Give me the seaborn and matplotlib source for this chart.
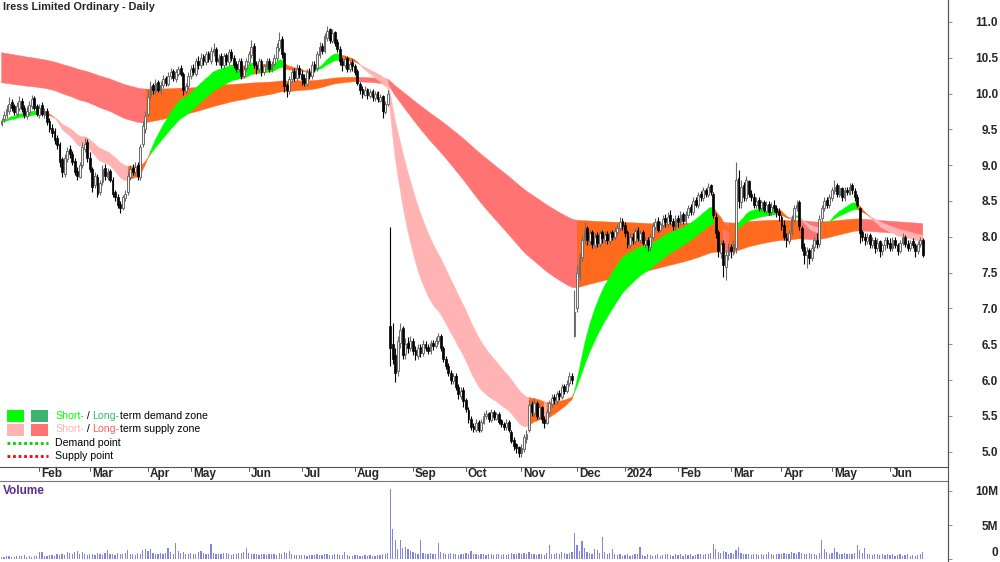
import numpy as np
import pandas as pd
import matplotlib
matplotlib.use("Agg")
import matplotlib.pyplot as plt
import seaborn as sns
from matplotlib.patches import Rectangle
from matplotlib.lines import Line2D

# ---------------- data ----------------
title = "Iress Limited Ordinary - Daily"
start_date, end_date = "2023-01-10", "2024-06-21"
asx_holidays = ["2023-01-26", "2023-04-07", "2023-04-10", "2023-04-25", "2023-06-12",
                "2023-12-25", "2023-12-26", "2024-01-01", "2024-01-26", "2024-03-29",
                "2024-04-01", "2024-04-25", "2024-06-10"]

opens = [
 9.58, 9.64, 9.70, 9.76, 9.88, 9.82, 9.72, 9.80, 9.90, 9.80, 9.68, 9.74, 9.82, 9.94, 9.82,
 9.70, 9.84, 9.70, 9.76, 9.62, 9.52, 9.48, 9.38, 9.30, 9.08, 8.88, 9.08, 9.22, 9.16, 9.06, 8.92, 8.84, 9.00, 9.22, 9.32,
 9.10, 8.94, 8.72, 8.84, 8.62, 8.76, 8.96, 8.84, 8.92, 8.80, 8.62, 8.56, 8.46, 8.40, 8.54, 8.62, 8.84, 8.96, 8.90, 9.00, 8.84, 9.30, 9.50,
 9.72, 9.96, 10.12, 10.04, 10.16, 10.04, 10.12, 10.22, 10.14, 10.24, 10.32, 10.20, 10.28, 10.36, 10.28, 10.04, 10.10,
 10.24, 10.36, 10.28, 10.46, 10.40, 10.52, 10.44, 10.56, 10.46, 10.58, 10.62, 10.44, 10.52, 10.40, 10.54, 10.44, 10.58, 10.50, 10.42, 10.34, 10.46, 10.24, 10.36,
 10.44, 10.54, 10.66, 10.40, 10.34, 10.46, 10.30, 10.38, 10.46, 10.34, 10.42, 10.50, 10.64, 10.76, 10.56, 10.12, 10.04, 10.20, 10.32, 10.22, 10.36,
 10.28, 10.22, 10.14, 10.30, 10.24, 10.42, 10.36, 10.54, 10.66, 10.60, 10.78, 10.90, 10.74, 10.86, 10.72, 10.62, 10.46, 10.40, 10.50, 10.34, 10.44,
 10.38, 10.32, 10.14, 10.06, 9.98, 10.06, 9.96, 10.04, 9.94, 10.02, 9.90, 9.96, 9.74, 9.86, 6.75, 6.50, 6.35, 6.12, 6.52, 6.72, 6.36, 6.52, 6.44,
 6.54, 6.42, 6.34, 6.46, 6.38, 6.50, 6.46, 6.40, 6.52, 6.48, 6.54, 6.62, 6.44, 6.30, 6.20, 6.10, 5.98, 6.06, 5.90, 5.78, 5.86,
 5.72, 5.58, 5.46, 5.36, 5.30, 5.42, 5.30, 5.40, 5.50, 5.54, 5.44, 5.56, 5.46, 5.52, 5.44, 5.38, 5.34, 5.42, 5.28, 5.16, 5.10, 5.06,
 4.98, 5.04, 5.18, 5.30, 5.66, 5.54, 5.68, 5.48, 5.62, 5.46, 5.40, 5.56, 5.66, 5.76, 5.70, 5.82, 5.76, 5.92, 5.84, 5.96, 6.06, 6.62,
 7.00, 7.45, 7.72, 7.96, 8.12, 7.94, 8.06, 7.88, 8.02, 7.90, 8.06, 7.96, 8.04, 7.94, 8.06, 8.00, 8.06, 8.12, 8.22,
 8.16, 8.06, 7.88, 8.00, 7.94, 8.10, 7.96, 8.06, 7.90, 7.96, 7.86, 8.00, 8.14, 8.22, 8.10, 8.16, 8.26, 8.18, 8.30, 8.22, 8.14,
 8.26, 8.20, 8.32, 8.22, 8.30, 8.42, 8.34, 8.52, 8.44, 8.60, 8.54, 8.66, 8.58, 8.72, 8.60, 8.28, 8.06, 7.78, 7.92, 7.58, 7.74,
 7.86, 7.78, 7.85, 8.82, 8.48, 8.72, 8.54, 8.78, 8.60, 8.56, 8.44, 8.52, 8.40, 8.48, 8.36, 8.46, 8.34, 8.44, 8.40, 8.36,
 8.28, 8.16, 7.98, 7.94, 8.06, 8.24, 8.40, 8.48, 8.12, 7.86, 7.74, 7.82, 7.70, 7.86, 7.96, 7.90, 8.26, 8.40, 8.52, 8.44,
 8.54, 8.64, 8.72, 8.58, 8.68, 8.54, 8.66, 8.60, 8.72, 8.64, 8.56, 8.40, 8.06, 8.00, 7.94, 8.02, 7.88, 7.96, 7.84, 7.94, 7.80, 7.88, 7.96,
 7.92, 7.84, 7.96, 7.88, 7.80, 7.92, 8.00, 7.90, 7.84, 7.94, 7.88, 7.80, 7.90, 7.96,
]
highs = [
 9.66, 9.76, 9.84, 9.95, 9.92, 9.86, 9.88, 9.96, 9.94, 9.84, 9.82, 9.90, 9.98, 9.97, 9.86,
 9.86, 9.88, 9.80, 9.80, 9.66, 9.58, 9.52, 9.42, 9.33, 9.12, 9.15, 9.25, 9.28, 9.20, 9.10, 8.98, 9.05, 9.32, 9.38, 9.36,
 9.18, 8.98, 8.90, 8.88, 8.80, 9.00, 9.02, 8.96, 8.95, 8.84, 8.66, 8.60, 8.50, 8.58, 8.66, 8.90, 9.00, 9.02, 9.05, 9.04, 9.30, 9.62, 9.75,
 10.05, 10.18, 10.15, 10.20, 10.19, 10.17, 10.26, 10.25, 10.30, 10.36, 10.35, 10.34, 10.38, 10.40, 10.30, 10.15, 10.30,
 10.40, 10.42, 10.50, 10.52, 10.56, 10.55, 10.60, 10.60, 10.65, 10.70, 10.65, 10.55, 10.56, 10.56, 10.56, 10.62, 10.62, 10.54, 10.46, 10.50, 10.50, 10.40, 10.50,
 10.60, 10.75, 10.70, 10.45, 10.50, 10.48, 10.42, 10.50, 10.50, 10.46, 10.55, 10.70, 10.86, 10.80, 10.58, 10.15, 10.25, 10.36, 10.36, 10.42, 10.40,
 10.33, 10.28, 10.34, 10.36, 10.45, 10.46, 10.60, 10.72, 10.70, 10.85, 10.95, 10.92, 10.90, 10.88, 10.76, 10.66, 10.50, 10.52, 10.52, 10.46, 10.48,
 10.42, 10.35, 10.16, 10.10, 10.10, 10.08, 10.06, 10.06, 10.04, 10.04, 10.00, 9.98, 9.90, 10.05, 8.14, 6.80, 6.45, 6.62, 6.80, 6.75, 6.58, 6.60, 6.62,
 6.58, 6.48, 6.50, 6.50, 6.56, 6.55, 6.50, 6.56, 6.56, 6.60, 6.66, 6.64, 6.48, 6.34, 6.24, 6.14, 6.10, 6.10, 5.95, 5.90, 5.90,
 5.75, 5.62, 5.50, 5.40, 5.45, 5.44, 5.46, 5.55, 5.58, 5.56, 5.60, 5.58, 5.56, 5.55, 5.46, 5.42, 5.45, 5.44, 5.30, 5.20, 5.12, 5.08,
 5.10, 5.24, 5.30, 5.72, 5.70, 5.75, 5.70, 5.66, 5.64, 5.50, 5.60, 5.72, 5.80, 5.80, 5.85, 5.86, 5.95, 5.95, 6.00, 6.11, 6.10, 7.26,
 7.60, 7.77, 8.02, 8.20, 8.15, 8.10, 8.10, 8.05, 8.06, 8.10, 8.10, 8.08, 8.08, 8.10, 8.10, 8.13, 8.18, 8.28, 8.26,
 8.20, 8.10, 8.05, 8.05, 8.12, 8.14, 8.10, 8.10, 8.00, 8.00, 8.05, 8.20, 8.26, 8.28, 8.22, 8.30, 8.32, 8.35, 8.37, 8.26, 8.30,
 8.30, 8.36, 8.35, 8.36, 8.45, 8.46, 8.55, 8.56, 8.62, 8.64, 8.70, 8.68, 8.75, 8.74, 8.62, 8.33, 8.10, 7.95, 7.95, 7.80, 7.91,
 7.90, 7.95, 9.05, 8.93, 8.80, 8.76, 8.85, 8.80, 8.66, 8.61, 8.55, 8.56, 8.52, 8.52, 8.50, 8.50, 8.48, 8.51, 8.45, 8.40,
 8.30, 8.23, 8.05, 8.10, 8.30, 8.45, 8.51, 8.51, 8.15, 7.92, 7.86, 7.85, 7.90, 8.00, 8.05, 8.30, 8.45, 8.55, 8.56, 8.60,
 8.70, 8.79, 8.75, 8.72, 8.70, 8.70, 8.70, 8.75, 8.75, 8.68, 8.60, 8.42, 8.10, 8.05, 8.05, 8.05, 8.00, 8.00, 7.98, 7.96, 7.92, 8.00, 8.00,
 7.98, 8.00, 8.00, 7.92, 7.96, 8.05, 8.02, 7.95, 7.96, 7.98, 7.92, 7.94, 8.00, 7.98,
]
lows = [
 9.55, 9.60, 9.66, 9.72, 9.76, 9.70, 9.68, 9.76, 9.74, 9.66, 9.64, 9.70, 9.78, 9.77, 9.68,
 9.66, 9.68, 9.66, 9.56, 9.46, 9.40, 9.30, 9.22, 8.98, 8.83, 8.84, 9.04, 9.10, 9.00, 8.86, 8.80, 8.82, 8.96, 9.18, 9.05,
 8.90, 8.62, 8.68, 8.55, 8.58, 8.72, 8.80, 8.80, 8.76, 8.56, 8.50, 8.40, 8.33, 8.38, 8.50, 8.58, 8.80, 8.86, 8.86, 8.80, 8.80, 9.25, 9.45,
 9.68, 9.92, 10.00, 10.00, 10.02, 10.00, 10.08, 10.10, 10.10, 10.20, 10.18, 10.16, 10.24, 10.25, 9.98, 10.00, 10.06,
 10.20, 10.26, 10.24, 10.35, 10.36, 10.40, 10.40, 10.44, 10.42, 10.52, 10.40, 10.40, 10.36, 10.36, 10.40, 10.40, 10.46, 10.36, 10.30, 10.30, 10.20, 10.22, 10.32,
 10.40, 10.50, 10.36, 10.28, 10.30, 10.25, 10.26, 10.34, 10.30, 10.30, 10.38, 10.46, 10.60, 10.50, 10.02, 9.95, 10.00, 10.16, 10.18, 10.18, 10.22,
 10.12, 10.10, 10.10, 10.20, 10.20, 10.30, 10.32, 10.50, 10.55, 10.56, 10.74, 10.70, 10.70, 10.66, 10.58, 10.40, 10.32, 10.36, 10.30, 10.30, 10.32,
 10.26, 10.12, 10.00, 9.94, 9.96, 9.93, 9.94, 9.90, 9.90, 9.88, 9.88, 9.66, 9.72, 9.82, 6.20, 6.22, 5.97, 6.05, 6.45, 6.30, 6.30, 6.38, 6.40,
 6.35, 6.28, 6.30, 6.32, 6.34, 6.40, 6.36, 6.36, 6.42, 6.44, 6.50, 6.40, 6.25, 6.15, 6.05, 5.95, 5.94, 5.86, 5.74, 5.74, 5.62,
 5.55, 5.40, 5.30, 5.27, 5.28, 5.27, 5.28, 5.38, 5.45, 5.41, 5.42, 5.44, 5.44, 5.38, 5.34, 5.30, 5.30, 5.27, 5.12, 5.02, 4.98, 4.92,
 4.92, 5.00, 5.12, 5.28, 5.50, 5.50, 5.45, 5.45, 5.40, 5.33, 5.38, 5.52, 5.62, 5.66, 5.66, 5.72, 5.74, 5.80, 5.82, 5.92, 5.95, 6.60,
 6.95, 7.40, 7.66, 7.90, 7.88, 7.88, 7.84, 7.84, 7.86, 7.86, 7.92, 7.92, 7.90, 7.90, 7.96, 7.96, 8.02, 8.08, 8.10,
 8.00, 7.84, 7.84, 7.90, 7.90, 7.94, 7.92, 7.88, 7.84, 7.80, 7.80, 7.96, 8.10, 8.06, 8.06, 8.12, 8.14, 8.14, 8.18, 8.10, 8.10,
 8.14, 8.16, 8.18, 8.18, 8.26, 8.30, 8.30, 8.42, 8.40, 8.50, 8.50, 8.55, 8.55, 8.58, 8.26, 7.98, 7.72, 7.70, 7.44, 7.40, 7.67,
 7.70, 7.74, 7.77, 8.40, 8.40, 8.50, 8.50, 8.55, 8.50, 8.40, 8.40, 8.36, 8.36, 8.34, 8.33, 8.30, 8.30, 8.34, 8.28, 8.22,
 8.10, 7.95, 7.86, 7.90, 8.02, 8.20, 8.36, 8.10, 7.80, 7.62, 7.56, 7.62, 7.66, 7.80, 7.85, 7.86, 8.20, 8.36, 8.40, 8.40,
 8.50, 8.60, 8.55, 8.55, 8.50, 8.50, 8.58, 8.58, 8.60, 8.50, 8.42, 7.91, 7.94, 7.88, 7.90, 7.84, 7.84, 7.78, 7.80, 7.72, 7.74, 7.82, 7.84,
 7.80, 7.80, 7.84, 7.74, 7.77, 7.88, 7.86, 7.80, 7.80, 7.84, 7.72, 7.76, 7.86, 7.72,
]
closes = [
 9.62, 9.70, 9.78, 9.85, 9.80, 9.74, 9.82, 9.90, 9.78, 9.70, 9.76, 9.84, 9.92, 9.80, 9.72,
 9.80, 9.72, 9.75, 9.60, 9.50, 9.45, 9.35, 9.28, 9.05, 8.90, 9.10, 9.20, 9.15, 9.05, 8.90, 8.85, 9.00, 9.25, 9.30, 9.10,
 8.95, 8.70, 8.85, 8.60, 8.75, 8.95, 8.85, 8.90, 8.80, 8.60, 8.55, 8.45, 8.40, 8.55, 8.60, 8.85, 8.95, 8.90, 8.98, 8.85, 9.25, 9.55, 9.68,
 9.95, 10.10, 10.05, 10.15, 10.05, 10.12, 10.20, 10.15, 10.25, 10.30, 10.22, 10.30, 10.35, 10.28, 10.05, 10.10, 10.25,
 10.35, 10.30, 10.45, 10.40, 10.50, 10.45, 10.55, 10.48, 10.60, 10.62, 10.45, 10.50, 10.40, 10.52, 10.45, 10.58, 10.50, 10.40, 10.35, 10.45, 10.25, 10.35, 10.45,
 10.55, 10.65, 10.40, 10.35, 10.45, 10.30, 10.38, 10.45, 10.35, 10.42, 10.50, 10.65, 10.75, 10.55, 10.10, 10.05, 10.20, 10.30, 10.22, 10.35, 10.28,
 10.20, 10.15, 10.30, 10.25, 10.40, 10.35, 10.55, 10.65, 10.60, 10.80, 10.88, 10.75, 10.85, 10.70, 10.62, 10.45, 10.40, 10.48, 10.35, 10.42, 10.38,
 10.30, 10.15, 10.05, 10.00, 10.05, 9.98, 10.02, 9.95, 10.00, 9.92, 9.95, 9.75, 9.85, 10.00, 6.45, 6.30, 6.10, 6.55, 6.70, 6.35, 6.50, 6.45, 6.55,
 6.40, 6.35, 6.45, 6.38, 6.50, 6.45, 6.40, 6.52, 6.48, 6.55, 6.62, 6.45, 6.30, 6.20, 6.10, 6.00, 6.05, 5.90, 5.80, 5.85, 5.70,
 5.60, 5.45, 5.35, 5.32, 5.40, 5.30, 5.42, 5.50, 5.52, 5.45, 5.55, 5.48, 5.52, 5.42, 5.38, 5.35, 5.40, 5.30, 5.15, 5.08, 5.05, 4.98,
 5.05, 5.20, 5.25, 5.65, 5.55, 5.68, 5.50, 5.62, 5.45, 5.40, 5.55, 5.68, 5.75, 5.72, 5.80, 5.78, 5.90, 5.85, 5.95, 6.05, 6.00, 6.95,
 7.50, 7.70, 7.95, 8.10, 7.95, 8.05, 7.90, 8.00, 7.92, 8.05, 7.98, 8.02, 7.95, 8.05, 8.00, 8.08, 8.12, 8.20, 8.15,
 8.05, 7.90, 8.00, 7.95, 8.08, 7.98, 8.05, 7.92, 7.95, 7.88, 8.00, 8.15, 8.20, 8.10, 8.18, 8.25, 8.20, 8.28, 8.22, 8.15, 8.25,
 8.20, 8.30, 8.22, 8.32, 8.40, 8.35, 8.50, 8.45, 8.58, 8.55, 8.65, 8.60, 8.70, 8.62, 8.30, 8.05, 7.80, 7.90, 7.60, 7.75, 7.85,
 7.80, 7.90, 8.80, 8.50, 8.70, 8.55, 8.80, 8.60, 8.55, 8.45, 8.50, 8.40, 8.48, 8.38, 8.45, 8.35, 8.42, 8.40, 8.35, 8.30,
 8.15, 8.00, 7.95, 8.05, 8.25, 8.40, 8.45, 8.15, 7.85, 7.75, 7.80, 7.70, 7.85, 7.95, 7.90, 8.25, 8.40, 8.50, 8.45, 8.55,
 8.65, 8.70, 8.60, 8.68, 8.55, 8.65, 8.62, 8.70, 8.65, 8.55, 8.45, 8.05, 8.00, 7.95, 8.00, 7.90, 7.95, 7.85, 7.92, 7.80, 7.88, 7.95, 7.90,
 7.85, 7.95, 7.88, 7.80, 7.92, 8.00, 7.90, 7.85, 7.92, 7.88, 7.80, 7.90, 7.95, 7.75,
]
volume_m = [
 0.35, 0.30, 0.40, 0.45, 0.35, 0.30, 0.40, 0.50, 0.45, 0.55, 0.35, 0.40, 0.30, 0.45, 0.40,
 1.10, 1.00, 0.50, 0.45, 0.60, 0.55, 0.50, 0.70, 0.65, 0.80, 0.60, 1.00, 0.90, 0.70, 1.10, 1.20, 0.80, 1.10, 0.70, 0.60,
 0.80, 0.70, 0.60, 0.90, 0.75, 0.65, 0.85, 1.30, 0.70, 0.80, 0.60, 0.90, 0.75, 0.70, 0.85, 1.30, 0.80, 0.70, 0.60, 0.90, 0.80, 1.30, 1.50,
 1.20, 1.40, 0.90, 0.80, 0.70, 0.85, 0.75, 0.90, 1.60, 1.00, 0.80, 2.40, 1.20, 0.90, 1.00, 0.80, 0.70,
 0.90, 0.80, 0.70, 1.00, 1.20, 0.90, 0.80, 0.70, 2.20, 0.90, 0.80, 0.75, 0.70, 0.85, 0.90, 0.70, 0.65, 0.80, 0.75, 0.90, 0.85, 1.00, 1.60,
 0.90, 0.80, 0.70, 0.75, 0.65, 0.80, 0.70, 0.60, 0.75, 0.80, 0.70, 0.65, 0.90, 0.80, 1.00, 0.85, 1.20, 0.70, 0.60, 0.65, 0.55,
 0.60, 0.55, 0.50, 0.65, 0.60, 0.55, 0.70, 0.65, 0.60, 0.75, 0.70, 0.65, 0.60, 0.70, 0.80, 0.65, 0.60, 1.00, 0.55, 0.50, 0.45,
 0.60, 0.55, 0.50, 0.45, 0.60, 0.50, 0.55, 0.45, 0.50, 0.55, 0.60, 0.70, 0.80, 0.90, 10.3, 4.40, 2.80, 1.40, 2.80, 1.60, 1.80, 1.50, 1.20,
 1.00, 0.90, 0.80, 2.80, 0.90, 0.80, 0.70, 0.90, 0.80, 0.70, 2.40, 1.00, 0.90, 0.80, 0.70, 0.90, 0.80, 0.70, 0.60, 0.80, 0.70,
 0.90, 0.70, 1.20, 0.80, 0.70, 0.60, 0.80, 0.70, 0.60, 0.70, 0.80, 0.60, 0.70, 0.80, 0.60, 0.70, 0.60, 0.80, 0.90, 0.70, 0.80, 0.90,
 0.80, 0.90, 0.70, 1.00, 0.80, 0.70, 0.60, 0.80, 0.70, 0.60, 0.90, 2.10, 0.80, 0.70, 0.90, 0.80, 1.10, 0.90, 0.80, 0.90, 1.00, 3.80,
 2.00, 1.20, 2.70, 1.60, 1.00, 0.90, 0.80, 1.50, 1.30, 0.90, 3.30, 1.00, 0.80, 0.90, 1.50, 0.70, 0.60, 0.80, 0.50,
 0.60, 0.70, 0.50, 0.60, 0.80, 0.70, 1.80, 0.60, 0.50, 0.70, 0.60, 0.50, 0.60, 0.70, 0.50, 0.60, 0.70, 0.80, 0.60, 0.50, 0.70,
 0.60, 0.70, 0.50, 0.80, 0.60, 0.70, 0.50, 0.60, 0.80, 0.70, 0.60, 0.70, 0.80, 0.90, 2.20, 1.50, 1.00, 0.90, 1.20, 1.00, 0.80,
 0.90, 0.80, 1.30, 1.70, 0.90, 0.80, 0.70, 0.80, 0.60, 0.70, 0.80, 0.60, 0.70, 0.60, 0.70, 1.10, 0.70, 0.60, 0.80, 0.70,
 0.80, 0.90, 0.70, 0.80, 1.00, 0.90, 0.80, 1.10, 0.90, 0.80, 0.70, 0.90, 0.80, 0.70, 0.60, 0.90, 2.80, 1.50, 1.00, 0.80,
 0.90, 1.60, 1.00, 0.80, 0.70, 0.90, 0.80, 0.70, 0.80, 0.90, 2.00, 1.30, 0.90, 1.60, 0.80, 0.70, 0.60, 0.70, 0.80, 0.60, 0.70, 0.60, 0.70,
 0.60, 0.70, 0.50, 0.60, 0.70, 0.50, 0.60, 0.70, 0.50, 0.60, 0.50, 0.60, 0.70, 1.00,
]

# ribbon settings (EMA spans) and their starting levels read at the left edge
short_spans = (20, 38)
long_spans = (140, 250)
short_seed = (9.62, 9.60)
long_seed = (10.16, 10.58)

price_ticks = [5.0, 5.5, 6.0, 6.5, 7.0, 7.5, 8.0, 8.5, 9.0, 9.5, 10.0, 10.5, 11.0]
volume_ticks = [0, 5, 10]
volume_tick_labels = ["0", "5M", "10M"]

# ---------------- build ----------------
dates = pd.bdate_range(start_date, end_date, freq="C", holidays=asx_holidays)
n = len(dates)
for name, arr in [("opens", opens), ("highs", highs), ("lows", lows), ("closes", closes), ("volume", volume_m)]:
    if len(arr) != n:
        raise SystemExit(f"{name} has {len(arr)} values, calendar has {n}")

df = pd.DataFrame({"date": dates, "open": opens, "high": highs, "low": lows,
                   "close": closes, "volume": volume_m})
df["i"] = np.arange(n)


def ema(values, span, seed):
    a = 2.0 / (span + 1.0)
    out = np.empty(len(values))
    prev = seed
    for k, v in enumerate(values):
        prev = prev + a * (v - prev)
        out[k] = prev
    return out


c = df["close"].to_numpy()
s_fast = ema(c, short_spans[0], short_seed[0])
s_slow = ema(c, short_spans[1], short_seed[1])
l_fast = ema(c, long_spans[0], long_seed[0])
l_slow = ema(c, long_spans[1], long_seed[1])

sns.set_theme(style="white")
plt.rcParams["font.family"] = ["Liberation Sans", "DejaVu Sans"]
NARROW = ["Liberation Sans Narrow", "Liberation Sans", "DejaVu Sans"]

W, H = 1000, 562
fig = plt.figure(figsize=(W / 100, H / 100), dpi=100)
ax = fig.add_axes([0, (H - 467) / H, 948 / W, 467 / H])
axv = fig.add_axes([0, 0, 948 / W, (H - 481) / H])

x = df["i"].to_numpy().astype(float)

C_GREEN = "#00FF00"
C_DKGREEN = "#3CB371"
C_PINK = "#FFB3B3"
C_RED = "#FF7373"
C_ORANGE = "#FF6A1F"


def draw_band(fast, slow, up_col, down_col, z):
    d = np.diff(fast, prepend=fast[0])
    d[0] = d[1]
    state = np.where((d > 0) & (fast > slow), 1, np.where((d < 0) & (fast < slow), -1, 0))
    for s, col in [(0, C_ORANGE), (1, up_col), (-1, down_col)]:
        m = state == s
        m_ext = m | np.r_[False, m[:-1]]
        ax.fill_between(x, fast, slow, where=m_ext, color=col, lw=0.3, edgecolor=col,
                        interpolate=False, zorder=z)


draw_band(l_fast, l_slow, C_DKGREEN, C_RED, 1)
draw_band(s_fast, s_slow, C_GREEN, C_PINK, 2)

# candles
o = df["open"].to_numpy(); h = df["high"].to_numpy(); l = df["low"].to_numpy()
up = c >= o
ax.vlines(x[up], l[up], h[up], color="#6a6a6a", lw=0.8, zorder=3)
ax.vlines(x[~up], l[~up], h[~up], color="#000000", lw=0.8, zorder=3)
body_lo = np.minimum(o, c)
body_h = np.maximum(np.abs(c - o), 0.01)
ax.bar(x[up], body_h[up], bottom=body_lo[up], width=0.72, color="#f4f4f4",
       edgecolor="#6a6a6a", lw=0.7, zorder=4)
ax.bar(x[~up], body_h[~up], bottom=body_lo[~up], width=0.72, color="#000000",
       edgecolor="#000000", lw=0.5, zorder=4)

ax.set_xlim(-0.6, 375)
ax.set_ylim(4.785, 11.307)
ax.yaxis.tick_right()
ax.set_yticks(price_ticks)
ax.set_yticklabels([f"{t:.1f}" for t in price_ticks])
ax.tick_params(axis="y", which="both", right=True, length=3, width=0.6, color="#777777",
               pad=33, labelsize=8.5)
for t in ax.get_yticklabels():
    t.set_horizontalalignment("right")
    t.set_fontweight("bold")
    t.set_family(NARROW)
ax.set_xticks([])
for side in ["top", "left"]:
    ax.spines[side].set_visible(False)
for side in ["right", "bottom"]:
    ax.spines[side].set_visible(True)
    ax.spines[side].set_color("#555555")
    ax.spines[side].set_linewidth(0.8)

# continuous right border between the panels
fig.add_artist(Line2D([947.6 / W] * 2, [0, 1], transform=fig.transFigure, color="#555555", lw=0.8))

# month labels under the price panel
month_starts = df.groupby([df["date"].dt.year, df["date"].dt.month])["i"].min().iloc[1:]
for (yr, mo), i0 in month_starts.items():
    lab = str(yr) if mo == 1 else pd.Timestamp(year=yr, month=mo, day=1).strftime("%b")
    xf = (x[i0] + 0.6) / 375.6 * 948 / W
    fig.add_artist(Line2D([xf, xf], [(H - 467) / H, (H - 471) / H],
                          transform=fig.transFigure, color="#555555", lw=0.7))
    fig.text(xf + 0.002, (H - 474) / H, lab, ha="left", va="center",
             fontsize=8.5, fontweight="bold", family=NARROW)

# volume
sns.barplot(x=df["i"], y=df["volume"], native_scale=True, color="#8585e0", saturation=1,
            width=0.5, ax=axv, linewidth=0)
axv.set_xlim(-0.6, 375)
axv.set_ylim(-0.44, 11.47)
axv.set_xlabel(""); axv.set_ylabel("")
axv.set_xticks([])
axv.yaxis.tick_right()
axv.set_yticks(volume_ticks)
axv.set_yticklabels(volume_tick_labels)
axv.tick_params(axis="y", right=True, length=3, width=0.6, color="#777777", pad=33, labelsize=8.5)
for t in axv.get_yticklabels():
    t.set_horizontalalignment("right")
    t.set_fontweight("bold")
    t.set_family(NARROW)
axv.get_yticklabels()[0].set_verticalalignment("bottom")
for side in ["bottom", "left"]:
    axv.spines[side].set_visible(False)
for side in ["top", "right"]:
    axv.spines[side].set_visible(True)
    axv.spines[side].set_color("#777777")
    axv.spines[side].set_linewidth(0.8)
axv.text(0.003, 0.88, "Volume", transform=axv.transAxes, ha="left", va="center",
         fontsize=8.5, fontweight="bold", color="#5b2d91", family=NARROW)

# title
fig.text(0.003, 1 - 7.5 / H, title, ha="left", va="center", fontsize=7.8, fontweight="bold")

# legend (drawn manually, pixel positions)
def fx(px): return px / W
def fy(py): return 1 - py / H

rows = [
    (416, [("Short-", C_GREEN), (" / ", "black"), ("Long-", C_DKGREEN), ("term demand zone", "black")]),
    (429.5, [("Short-", C_PINK), (" / ", "black"), ("Long-", "#FF6060"), ("term supply zone", "black")]),
    (443, [("Demand point", "black")]),
    (456, [("Supply point", "black")]),
]
for (px0, col) in [(7, C_GREEN), (31, C_DKGREEN)]:
    fig.add_artist(Rectangle((fx(px0), fy(422)), 17 / W, 12 / H, transform=fig.transFigure,
                             color=col, lw=0))
for (px0, col) in [(7, C_PINK), (31, C_RED)]:
    fig.add_artist(Rectangle((fx(px0), fy(435.5)), 17 / W, 12 / H, transform=fig.transFigure,
                             color=col, lw=0))
fig.add_artist(Line2D([fx(7), fx(48)], [fy(443)] * 2, transform=fig.transFigure,
                      color="#00CC00", lw=2, linestyle=(0, (1, 1))))
fig.add_artist(Line2D([fx(7), fx(48)], [fy(456)] * 2, transform=fig.transFigure,
                      color="#FF0000", lw=2, linestyle=(0, (1, 1))))

renderer = fig.canvas.get_renderer()
for py, parts in rows:
    cx = 55.0
    for txt, col in parts:
        t = fig.text(fx(cx), fy(py), txt, ha="left", va="center", fontsize=7.6, color=col)
        bb = t.get_window_extent(renderer=renderer)
        cx += bb.width

fig.savefig("out.png", dpi=100, facecolor="white")
